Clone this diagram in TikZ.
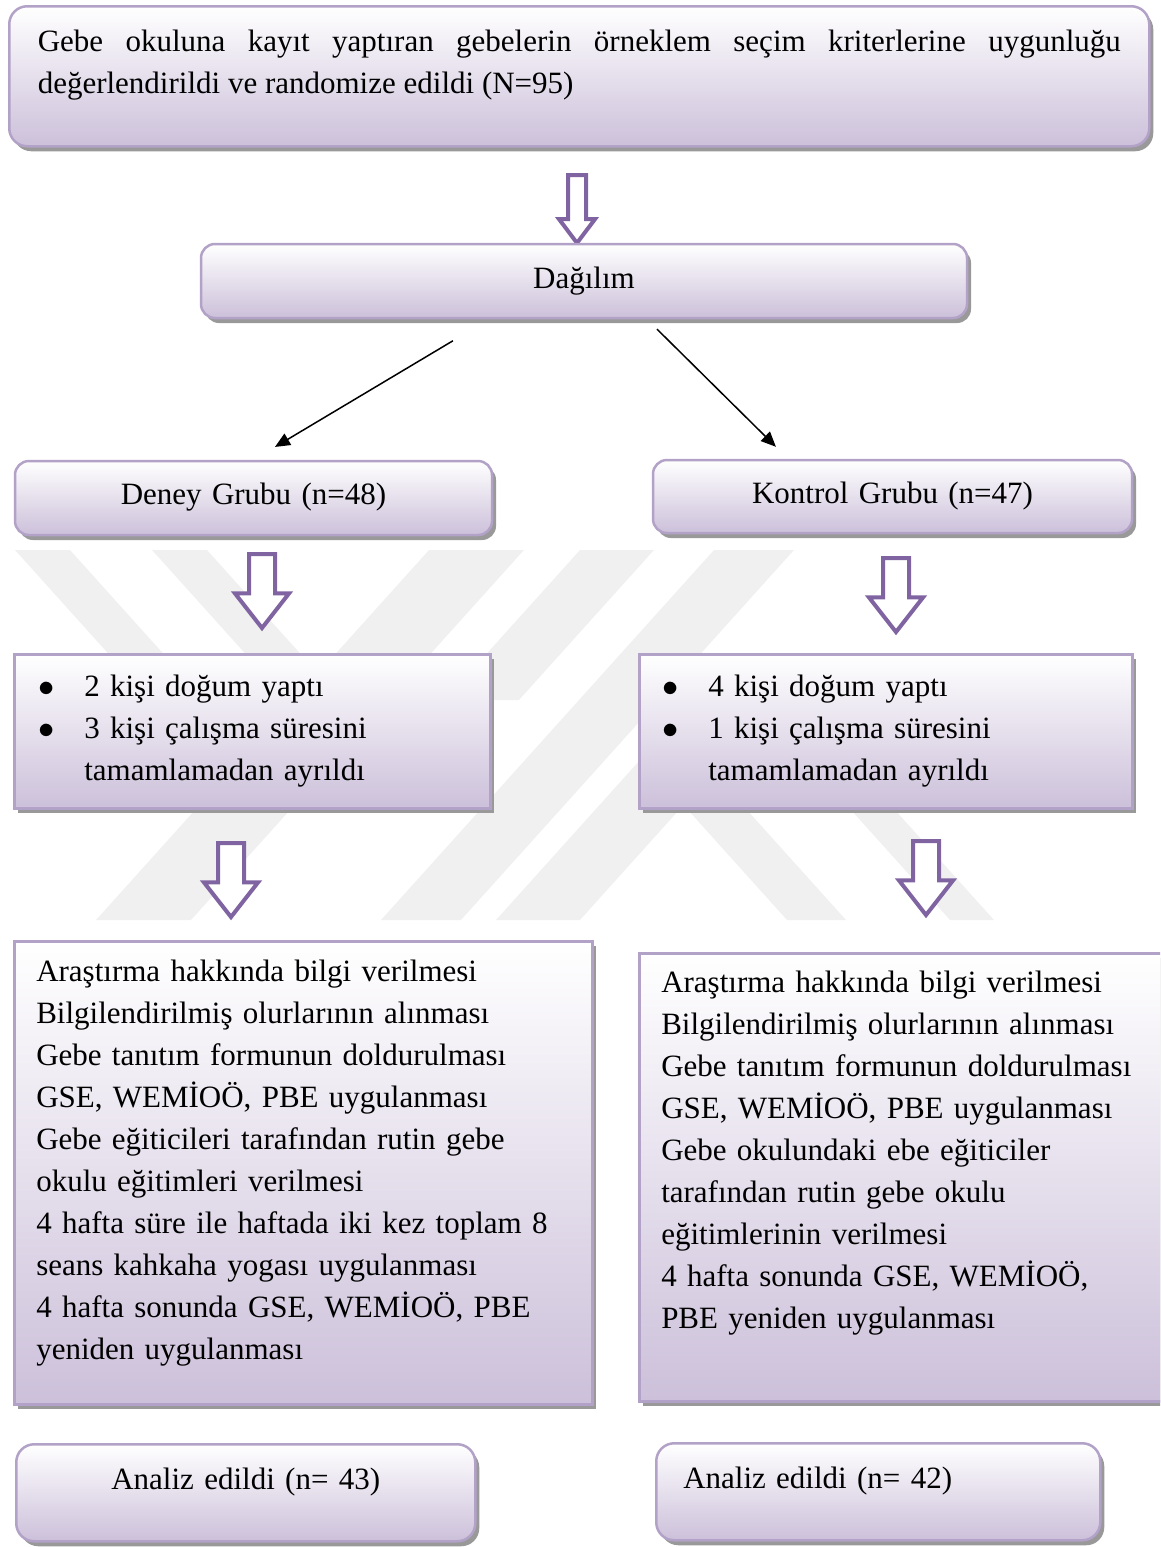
\documentclass[tikz,border=0pt]{standalone}
\usepackage{fontspec}
\setmainfont{Liberation Serif}
\usetikzlibrary{shapes.arrows,positioning,shadows,arrows.meta}

\definecolor{boxline}{HTML}{B3A2C7}
\definecolor{boxfill}{HTML}{CCC0DA}
\definecolor{arrowline}{HTML}{8064A2}
\definecolor{markgray}{HTML}{F0F0F0}

\tikzset{
    box/.style={rectangle, draw=boxline, line width=2.5pt,
        top color=white, bottom color=boxfill, inner xsep=0pt, inner ysep=0pt,
        font=\fontsize{31}{42}\selectfont,
        drop shadow={shadow xshift=4pt, shadow yshift=-5pt, fill=black!40, opacity=1}},
    roundbox/.style={box, rounded corners=18pt},
    lift/.style={execute at end node={\par\vspace*{#1}}},
    hollow/.style={single arrow, draw=arrowline, line width=4pt, fill=white,
        shape border rotate=270, inner sep=11pt, minimum height=74pt,
        minimum width=50pt, single arrow head extend=14pt,
        single arrow tip angle=76},
    split/.style={-{Triangle[length=15pt,width=13pt]}, line width=1.5pt}
}

\newcommand{\listdot}{\makebox[46pt][l]{\scalebox{1.3}{$\bullet$}}}

\begin{document}
\begin{tikzpicture}[x=1pt, y=-1pt]
    \useasboundingbox (0,0) rectangle (1160,1547);
    \clip (0,0) rectangle (1160,1547);

    % watermark stripes
    \fill[markgray] (15,550) -- (70,550) -- (205,700) -- (150,700) -- cycle;
    \fill[markgray] (152,550) -- (207,550) -- (342,700) -- (287,700) -- cycle;
    \fill[markgray] (429,550) -- (524,550) -- (191,920) -- (96,920) -- cycle;
    \fill[markgray] (580,550) -- (654,550) -- (519,700) -- (445,700) -- cycle;
    \fill[markgray] (714,550) -- (794,550) -- (461,920) -- (381,920) -- cycle;
    \fill[markgray] (649,750) -- (733,750) -- (580,920) -- (496,920) -- cycle;
    \fill[markgray] (643,760) -- (702,760) -- (846,920) -- (787,920) -- cycle;
    \fill[markgray] (806,760) -- (850,760) -- (994,920) -- (950,920) -- cycle;

    % Screening
    \node[roundbox, anchor=north west, minimum width=1140pt, minimum height=140pt,
          text width=1083pt, align=justify, lift=23pt] (screen) at (8,5)
          {Gebe okuluna kayıt yaptıran gebelerin örneklem seçim kriterlerine uygunluğu\linebreak
           değerlendirildi ve randomize edildi (N=95)};

    \node[hollow, anchor=tail, inner sep=7pt, minimum height=68pt, minimum width=34pt,
          single arrow head extend=9pt, single arrow tip angle=74] (down0) at (577,173) {};

    % Allocation
    \node[roundbox, rounded corners=14pt, minimum width=766pt, minimum height=74pt,
          text width=700pt, align=center] (dagilim) at (584,281) {Dağılım};

    \node[roundbox, rounded corners=14pt, minimum width=477pt, minimum height=74pt,
          text width=420pt, align=center, lift=2pt] (deney) at (253.5,498) {Deney Grubu (n=48)};
    \node[roundbox, rounded corners=14pt, minimum width=479pt, minimum height=73pt,
          text width=420pt, align=center, lift=1pt] (kontrol) at (892.5,496.5) {Kontrol Grubu (n=47)};

    \draw[split, shorten <=42pt, shorten >=25pt] ([xshift=-95pt]dagilim.south) -- (deney.north);
    \draw[split, shorten <=14pt, shorten >=17pt] ([xshift=63pt]dagilim.south) -- ([xshift=-104.5pt]kontrol.north);

    \node[hollow, anchor=tail] (down1) at (262,552) {};
    \node[hollow, anchor=tail] (down2) at (896,556) {};

    % Losses
    \node[box, anchor=north west, minimum width=476pt, minimum height=154pt,
          text width=428pt, align=left] (kayipd) at (13,653)
          {\listdot 2 kişi doğum yaptı\\
           \listdot 3 kişi çalışma süresini\\
           \hspace*{46pt}tamamlamadan ayrıldı};
    \node[box, anchor=north west, minimum width=493pt, minimum height=154pt,
          text width=447pt, align=left] (kayipk) at (638,653)
          {\listdot 4 kişi doğum yaptı\\
           \listdot 1 kişi çalışma süresini\\
           \hspace*{46pt}tamamlamadan ayrıldı};

    \node[hollow, anchor=tail] (down3) at (231,841) {};
    \node[hollow, anchor=tail] (down4) at (926,839) {};

    % Interventions
    \node[box, anchor=north west, minimum width=578pt, minimum height=463pt,
          text width=534pt, align=left, lift=20pt] (islemd) at (13,940)
          {Araştırma hakkında bilgi verilmesi\\
           Bilgilendirilmiş olurlarının alınması\\
           Gebe tanıtım formunun doldurulması\\
           GSE, WEMİOÖ, PBE uygulanması\\
           Gebe eğiticileri tarafından rutin gebe\\
           okulu eğitimleri verilmesi\\
           4 hafta süre ile haftada iki kez toplam 8\\
           seans kahkaha yogası uygulanması\\
           4 hafta sonunda GSE, WEMİOÖ, PBE\\
           yeniden uygulanması};
    \node[box, anchor=north west, minimum width=540pt, minimum height=448pt,
          text width=496pt, align=left, lift=48pt] (islemk) at (638,952)
          {Araştırma hakkında bilgi verilmesi\\
           Bilgilendirilmiş olurlarının alınması\\
           Gebe tanıtım formunun doldurulması\\
           GSE, WEMİOÖ, PBE uygulanması\\
           Gebe okulundaki ebe eğiticiler\\
           tarafından rutin gebe okulu\\
           eğitimlerinin verilmesi\\
           4 hafta sonunda GSE, WEMİOÖ,\\
           PBE yeniden uygulanması};

    % Analysis
    \node[roundbox, anchor=north west, minimum width=459pt, minimum height=97pt,
          text width=415pt, align=center, lift=21pt] (analizd) at (15,1443)
          {Analiz edildi (n= 43)};
    \node[roundbox, anchor=north west, minimum width=444pt, minimum height=97pt,
          text width=390pt, align=left, lift=21pt] (analizk) at (655,1442)
          {Analiz edildi (n= 42)};
\end{tikzpicture}
\end{document}
